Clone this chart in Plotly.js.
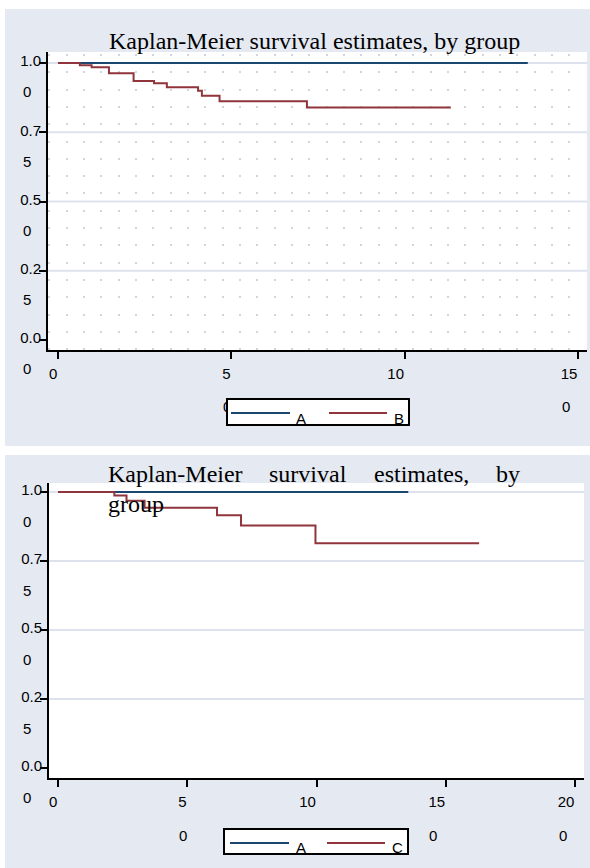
<!DOCTYPE html>
<html><head><meta charset="utf-8">
<script src="https://cdn.plot.ly/plotly-3.0.1.min.js"></script>
<style>html,body{margin:0;padding:0;background:#fff}#chart{width:590px;height:868px}</style>
</head><body><div id="chart"></div>
<script>
// ---- data ----
const timeA = [0, 135.5];
const survA = [1, 1];
const timeB = [0, 6.3, 9.7, 14.7, 21.8, 27.7, 31.4, 40.4, 41.5, 46.6, 71.8, 113.3];
const survB = [1, 0.992, 0.985, 0.963, 0.935, 0.927, 0.912, 0.900, 0.882, 0.862, 0.839, 0.839];
const timeC = [0, 21.8, 26.5, 33.5, 61.5, 70.8, 99.6, 162.9];
const survC = [1, 0.987, 0.968, 0.943, 0.916, 0.879, 0.814, 0.814];
const groups1 = ['A', 'B'];
const groups2 = ['A', 'C'];
const titleText = 'Kaplan-Meier survival estimates, by group';
const yTickVals = [0, 0.25, 0.5, 0.75, 1];
const yTickTop = ['0.0', '0.2', '0.5', '0.7', '1.0'];
const yTickBottom = ['0', '5', '0', '5', '0'];
const xTickVals1 = [0, 50, 100, 150];
const xTickTop1 = ['0', '5', '10', '15'];
const xTickBottom1 = ['', '0', '', '0'];       // the "0" under 10 is hidden behind the legend
const xTickVals2 = [0, 50, 100, 150, 200];
const xTickTop2 = ['0', '5', '10', '15', '20'];
const xTickBottom2 = ['', '0', '', '0', '0'];  // the "0" under 10 is hidden behind the legend
const gridVals = [0.25, 0.5, 0.75, 1];

// ---- styling ----
const W = 590, H = 868;
const px = x => x / W, py = y => 1 - y / H;
const NAVY = '#1a476f', MAROON = '#90353b';
const PANEL = '#e5e9f2', GRID = '#dde3ee', DOT = '#d0d6e1';
const SANS = 'Liberation Sans, Arial, sans-serif';
const SERIF = 'Liberation Serif, Times New Roman, serif';
const FIG = '\u2007';
const tickFont = {family: SANS, size: 15, color: '#000'};

function axisBase() {
  return {showline: true, linecolor: '#000', linewidth: 2, ticks: 'outside', ticklen: 7,
    tickwidth: 2, tickcolor: '#000', showgrid: false, zeroline: false, tickfont: tickFont,
    tickmode: 'array', fixedrange: true};
}

const traces = [
  {x: timeA, y: survA, name: groups1[0], xaxis: 'x', yaxis: 'y'},
  {x: timeB, y: survB, name: groups1[1], xaxis: 'x', yaxis: 'y'},
  {x: timeA, y: survA, name: groups2[0], xaxis: 'x2', yaxis: 'y2'},
  {x: timeC, y: survC, name: groups2[1], xaxis: 'x2', yaxis: 'y2'}
].map((t, i) => Object.assign(t, {type: 'scatter', mode: 'lines', showlegend: false, hoverinfo: 'skip',
  line: {shape: 'hv', width: 2, color: i % 2 === 0 ? NAVY : MAROON}}));

const wrap1 = t => t.length === 1 ? FIG + t : t;

const layout = {
  width: W, height: H, margin: {l: 0, r: 0, t: 0, b: 0}, showlegend: false,
  paper_bgcolor: '#fff', plot_bgcolor: 'rgba(0,0,0,0)',
  xaxis: Object.assign(axisBase(), {domain: [px(48), px(587)], range: [-2.884, 152.58], anchor: 'y',
    tickvals: xTickVals1, ticktext: xTickTop1.map(wrap1), ticklabelshift: -9, ticklabelstandoff: 2,
    minor: {tick0: 2.5, dtick: 5, showgrid: true, gridcolor: DOT, gridwidth: 2, griddash: '0px,2px,2px,13.3px'}}),
  yaxis: Object.assign(axisBase(), {domain: [py(350), py(52)], range: [-0.0361, 1.0397], anchor: 'x',
    tickvals: yTickVals, ticktext: yTickTop, ticklabelshift: -2, ticklabelstandoff: -5}),
  xaxis2: Object.assign(axisBase(), {domain: [px(49), px(584)], range: [-3.48, 203.48], anchor: 'y2',
    tickvals: xTickVals2, ticktext: xTickTop2.map(wrap1), ticklabelshift: -9, ticklabelstandoff: 2}),
  yaxis2: Object.assign(axisBase(), {domain: [py(778), py(483)], range: [-0.0362, 1.0326], anchor: 'x2',
    tickvals: yTickVals, ticktext: yTickTop, ticklabelshift: -2, ticklabelstandoff: -5}),
  shapes: [], annotations: []
};

// panels
[[9, 446], [455, 868]].forEach(([y0, y1]) => layout.shapes.push({type: 'rect', xref: 'paper', yref: 'paper',
  x0: px(5), x1: 1.01, y0: py(y1), y1: py(y0), fillcolor: PANEL, line: {width: 0}, layer: 'below'}));
// white plot regions + horizontal grid lines
[['x', 'y'], ['x2', 'y2']].forEach(([xa, ya]) => {
  layout.shapes.push({type: 'rect', xref: xa + ' domain', yref: ya + ' domain', x0: 0, x1: 1, y0: 0, y1: 1,
    fillcolor: '#fff', line: {width: 0}, layer: 'below'});
  gridVals.forEach(v => layout.shapes.push({type: 'line', xref: xa + ' domain', yref: ya, x0: 0, x1: 1,
    y0: v, y1: v, line: {color: GRID, width: 2}, layer: 'below'}));
});

function ann(o) { layout.annotations.push(Object.assign({showarrow: false, borderpad: 0}, o)); }

// titles
ann({xref: 'paper', yref: 'paper', x: px(314), y: py(40.9), xanchor: 'center', yanchor: 'middle',
  text: titleText, font: {family: SERIF, size: 24, color: '#000'}});
(function () {
  const words = titleText.split(' ');
  const ctx = document.createElement('canvas').getContext('2d');
  ctx.font = '24px "Liberation Serif"';
  const line1 = words.slice(0, 4);
  const widths = line1.map(w => ctx.measureText(w).width);
  const left = 106.5, right = 519;
  const gap = (right - left - widths.reduce((a, b) => a + b, 0)) / (line1.length - 1);
  let x = left;
  line1.forEach((w, i) => {
    ann({xref: 'paper', yref: 'paper', x: px(x), y: py(473.6), xanchor: 'left', yanchor: 'middle',
      text: w, font: {family: SERIF, size: 24, color: '#000'}});
    x += widths[i] + gap;
  });
  ann({xref: 'paper', yref: 'paper', x: px(left), y: py(503.6), xanchor: 'left', yanchor: 'middle',
    text: words[4], font: {family: SERIF, size: 24, color: '#000'}});
})();

// second lines of wrapped y tick labels
['y', 'y2'].forEach(ya => {
  yTickVals.forEach((v, i) => ann({xref: 'paper', yref: ya, x: px(21.8), y: v, yshift: -29,
    xanchor: 'left', yanchor: 'middle', text: yTickBottom[i], font: tickFont}));
});
// second lines of wrapped x tick labels
[['x', xTickVals1, xTickTop1, xTickBottom1, 406], ['x2', xTickVals2, xTickTop2, xTickBottom2, 835]]
  .forEach(([xa, vals, top, bot, yy]) => vals.forEach((v, i) => {
    if (!bot[i]) return;
    ann({xref: xa, yref: 'paper', x: v, xshift: top[i].length === 1 ? -9 : -17.3, y: py(yy),
      xanchor: 'left', yanchor: 'middle', text: bot[i], font: tickFont});
  }));

// legends (drawn last so the box covers labels behind it)
function legend(box, lineY, items) {
  ann({xref: 'paper', yref: 'paper', x: px((box[0] + box[1]) / 2), y: py((box[2] + box[3]) / 2),
    xanchor: 'center', yanchor: 'middle', text: '\u00a0', width: box[1] - box[0] - 4,
    height: box[3] - box[2] - 4, bgcolor: '#fff', bordercolor: '#000', borderwidth: 2});
  items.forEach(it => {
    ann({xref: 'paper', yref: 'paper', x: px(it.l0), y: py(lineY), xanchor: 'left', yanchor: 'middle',
      text: '\u00a0', width: it.l1 - it.l0, height: 2, bgcolor: it.color, borderwidth: 0});
    ann({xref: 'paper', yref: 'paper', x: px(it.tx), y: py(lineY + 5), xanchor: 'left', yanchor: 'middle',
      text: it.name, font: tickFont});
  });
}
legend([226, 410, 398, 426], 413, [
  {l0: 231, l1: 290, color: NAVY, tx: 295, name: groups1[0]},
  {l0: 329, l1: 387, color: MAROON, tx: 393, name: groups1[1]}]);
legend([223, 409, 828, 855], 842.7, [
  {l0: 230, l1: 289, color: NAVY, tx: 295, name: groups2[0]},
  {l0: 327, l1: 385, color: MAROON, tx: 391, name: groups2[1]}]);

Plotly.newPlot('chart', traces, layout, {displayModeBar: false, staticPlot: true});
</script></body></html>
